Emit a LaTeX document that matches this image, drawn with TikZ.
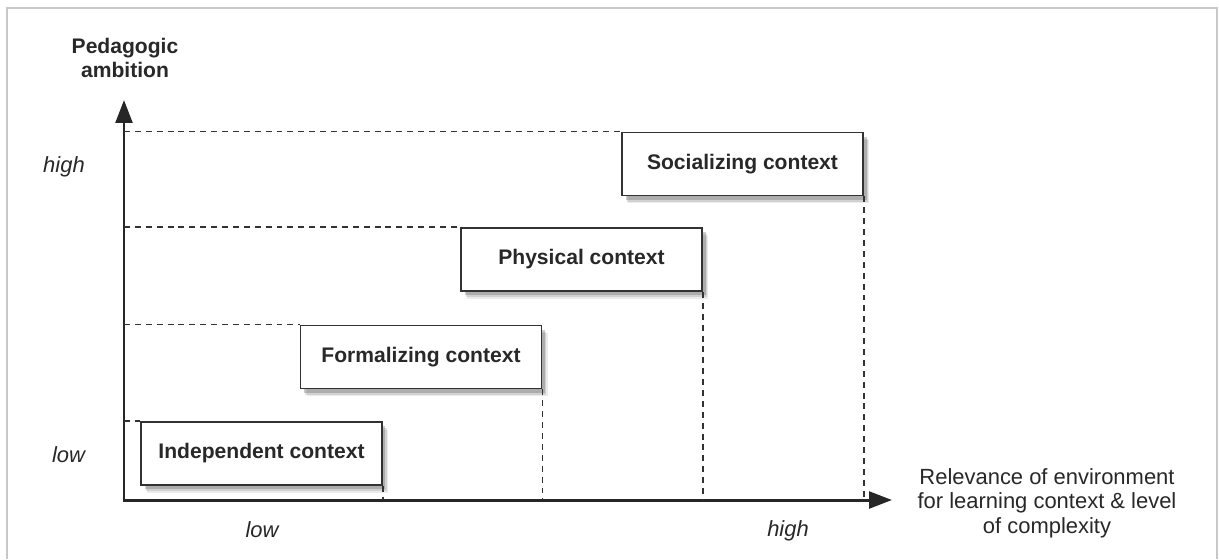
\documentclass[tikz,border=0pt]{standalone}
\usepackage{fontspec}
\setmainfont{Liberation Sans}
\usepackage{tikz}
\usetikzlibrary{arrows.meta,positioning,shadows,calc}
\definecolor{pgInk}   {RGB}{ 40, 40, 40}
\definecolor{pgLine}  {RGB}{ 50, 50, 50}
\definecolor{pgFrame} {RGB}{200,200,200}
\definecolor{pgShadow}{RGB}{ 90, 90, 90}

\begin{document}
\begin{tikzpicture}[
  x=0.02cm,y=-0.02cm,
  every node/.style={text=pgInk},
  ctxbox/.style={draw=pgLine,line width=1.1pt,fill=white,
                 minimum width=4.82cm,minimum height=1.26cm,inner sep=0pt,
                 font=\fontsize{12}{14}\selectfont\bfseries,
                 drop shadow={shadow xshift=3.5pt,shadow yshift=-4.5pt,
                              fill=pgShadow,opacity=0.12},
                 drop shadow={shadow xshift=2.8pt,shadow yshift=-3.5pt,
                              fill=pgShadow,opacity=0.18},
                 drop shadow={shadow xshift=2pt,shadow yshift=-2.5pt,
                              fill=pgShadow,opacity=0.3}},
  axislabel/.style={align=center,inner sep=0pt},
  ticklabel/.style={font=\fontsize{12.5}{14}\selectfont\itshape,anchor=base,inner sep=0pt},
  guide/.style={draw=pgLine,line width=0.7pt,dash pattern=on 3.4pt off 2.8pt},
  axis/.style={draw=black!85,line width=1.7pt,-{Triangle[length=13pt,width=9.5pt]}}
]
\useasboundingbox (0,0) rectangle (1219,559);
% outer frame
\draw[pgFrame,line width=1.1pt] (7,559) -- (7,8) -- (1217,8) -- (1217,559);
% axes
\coordinate (O) at (124,500);
\coordinate (Ytip) at (124,100);
\coordinate (Xtip) at (892,500);
\draw[axis] ($(O)+(0,1.5)$) -- (Ytip);
\draw[axis] ($(O)+(-0.8,0)$) -- (Xtip);
% context boxes
\node[ctxbox] (ind)  at (261.5,453.5) {Independent context};
\node[ctxbox] (form) at (421,357)     {Formalizing context};
\node[ctxbox] (phys) at (581.5,259.5) {Physical context};
\node[ctxbox] (soc)  at (742.5,164)   {Socializing context};
% guide lines to the axes
\draw[guide] (O |- ind.north west)  -- (ind.north west);
\draw[guide] (O |- form.north west) -- (form.north west);
\draw[guide] (O |- phys.north west) -- (phys.north west);
\draw[guide] (O |- soc.north west)  -- (soc.north west);
\draw[guide] (ind.south east)  -- (ind.south east |- O);
\draw[guide] (form.south east) -- (form.south east |- O);
\draw[guide] (phys.south east) -- (phys.south east |- O);
\draw[guide] (soc.south east)  -- (soc.south east |- O);
% axis titles
\node[axislabel,font=\fontsize{12}{13.6}\selectfont\bfseries] (ytitle) at (125,58)
  {Pedagogic\\ambition};
\node[axislabel,font=\fontsize{12.5}{13.9}\selectfont] (xtitle) at (1047,503)
  {Relevance of environment\\for learning context \& level\\of complexity};
% scale marks
\node[ticklabel] (yhigh) at (64,172)  {high};
\node[ticklabel] (ylow)  at (68.5,462) {low};
\node[ticklabel] (xlow)  at (262,537) {low};
\node[ticklabel] (xhigh) at (788,536) {high};
\end{tikzpicture}
\end{document}
